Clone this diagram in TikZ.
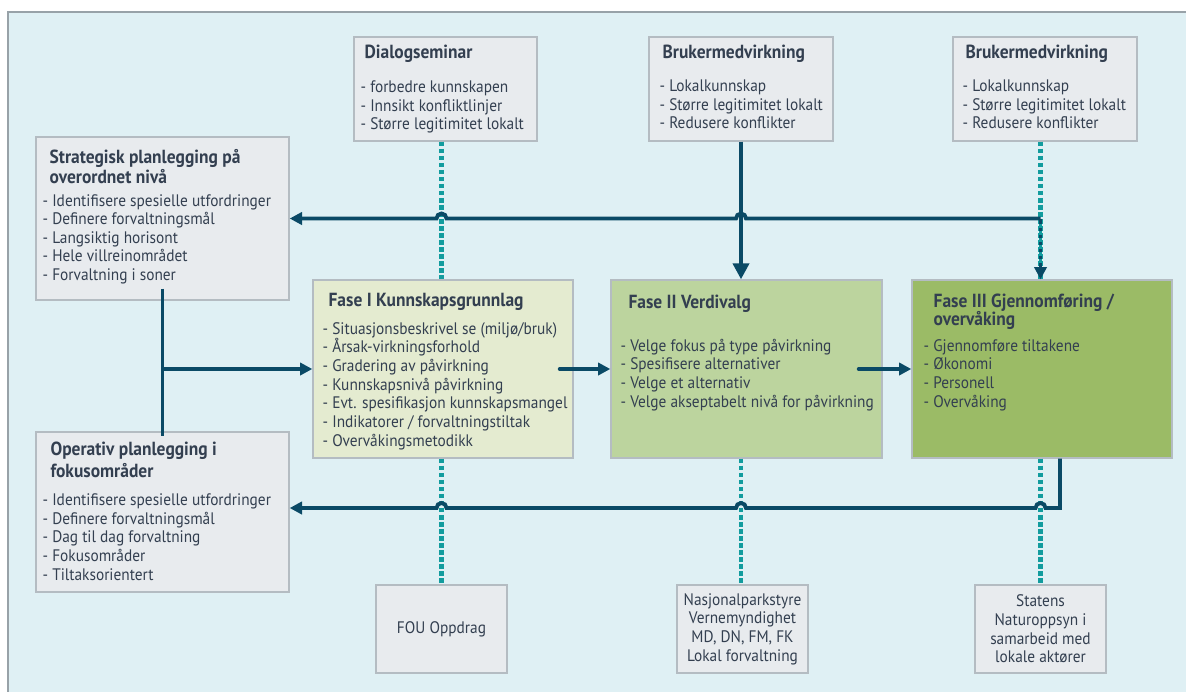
\documentclass[tikz,border=0pt]{standalone}
\usepackage{fontspec}
\setmainfont{PT Sans}[FakeStretch=0.92]
\usepackage{xcolor}
\usetikzlibrary{arrows.meta,positioning,fit,calc}

\definecolor{bgblue}{HTML}{DFF0F4}
\definecolor{framegray}{HTML}{98A2A8}
\definecolor{boxgray}{HTML}{E8EBEE}
\definecolor{boxline}{HTML}{B4BCC2}
\definecolor{faseone}{HTML}{E4EBD0}
\definecolor{fasetwo}{HTML}{BCD49E}
\definecolor{fasethree}{HTML}{9BBB66}
\definecolor{flowblue}{HTML}{0A4A66}
\definecolor{dotteal}{HTML}{129C9E}
\definecolor{txtgray}{HTML}{333F50}

\tikzset{
  greybox/.style={draw=boxline, line width=0.8pt, fill=boxgray, inner sep=0pt},
  fasebox/.style={greybox, fill=#1},
  boxtext/.style={anchor=north west, inner sep=0pt, align=left, text=txtgray,
    font=\fontsize{9.5}{10.6}\selectfont},
  midtext/.style={inner sep=0pt, align=center, text=txtgray,
    font=\fontsize{9.5}{10.6}\selectfont},
  flow/.style={draw=flowblue, line width=2.2pt},
  flowarrow/.style={flow, -{Triangle[length=7pt,width=7pt]}},
  dotline/.style={draw=dotteal, line width=2.8pt, dash pattern=on 2.6pt off 1.4pt},
}
\newcommand{\boxtitle}[1]{{\fontsize{10.8}{11}\selectfont\bfseries #1}}

\begin{document}
\begin{tikzpicture}[x=0.02cm, y=-0.02cm]
\useasboundingbox (0,0) rectangle (1186,691);
\draw[draw=framegray, line width=1.4pt, fill=bgblue] (8,12) rectangle (1200,705);

% top row
\node[greybox, fit={(354,37) (537,141)}] (dialog) {};
\node[boxtext] (dialog-t) at ([shift={(7,8)}]dialog.north west)
  {\hspace*{2.3pt}\boxtitle{Dialogseminar}\\[9pt]
   - forbedre kunnskapen\\
   - Innsikt konfliktlinjer\\
   - Større legitimitet lokalt};
\node[greybox, fit={(649,37) (833,141)}] (bruker1) {};
\node[boxtext] (bruker1-t) at ([shift={(11,8)}]bruker1.north west)
  {\hspace*{1.7pt}\boxtitle{Brukermedvirkning}\\[8.4pt]
   - Lokalkunnskap\\
   - Større legitimitet lokalt\\
   - Redusere konflikter};
\node[greybox, fit={(953,37) (1137,141)}] (bruker2) {};
\node[boxtext] (bruker2-t) at ([shift={(10,8)}]bruker2.north west)
  {\hspace*{1.7pt}\boxtitle{Brukermedvirkning}\\[8.4pt]
   - Lokalkunnskap\\
   - Større legitimitet lokalt\\
   - Redusere konflikter};

% planning boxes
\node[greybox, fit={(36,137) (289,300)}] (strat) {};
\node[boxtext] (strat-t) at ([shift={(7,13)}]strat.north west)
  {\hspace*{4pt}\boxtitle{Strategisk planlegging på}\\[0.7pt]
   \hspace*{4pt}\boxtitle{overordnet nivå}\\[2.2pt]
   - Identifisere spesielle utfordringer\\
   - Definere forvaltningsmål\\
   - Langsiktig horisont\\
   - Hele villreinområdet\\
   - Forvaltning i soner};
\node[greybox, fit={(36,432) (289,592)}] (oper) {};
\node[boxtext] (oper-t) at ([shift={(7,10)}]oper.north west)
  {\hspace*{4.5pt}\boxtitle{Operativ planlegging i}\\[1.9pt]
   \hspace*{4.5pt}\boxtitle{fokusområder}\\[5.6pt]
   - Identifisere spesielle utfordringer\\
   - Definere forvaltningsmål\\
   - Dag til dag forvaltning\\
   - Fokusområder\\
   - Tiltaksorientert};

% phases
\node[fasebox=faseone, fit={(313,280) (573,458)}] (fase1) {};
\node[boxtext] (fase1-t) at ([shift={(10,14)}]fase1.north west)
  {\hspace*{3.4pt}\boxtitle{Fase I Kunnskapsgrunnlag}\\[5pt]
   - Situasjonsbeskrivel se (miljø/bruk)\\
   - Årsak-virkningsforhold\\
   - Gradering av påvirkning\\
   - Kunnskapsnivå påvirkning\\
   - Evt. spesifikasjon kunnskapsmangel\\
   - Indikatorer / forvaltningstiltak\\
   - Overvåkingsmetodikk};
\node[fasebox=fasetwo, fit={(611,280) (882,458)}] (fase2) {};
\node[boxtext] (fase2-t) at ([shift={(10,15)}]fase2.north west)
  {\hspace*{4.5pt}\boxtitle{Fase II Verdivalg}\\[14pt]
   - Velge fokus på type påvirkning\\
   - Spesifisere alternativer\\
   - Velge et alternativ\\
   - Velge akseptabelt nivå for påvirkning};
\node[fasebox=fasethree, fit={(912,280) (1172,458)}] (fase3) {};
\node[boxtext] (fase3-t) at ([shift={(12,14)}]fase3.north west)
  {\hspace*{5.7pt}\boxtitle{Fase III Gjennomføring /}\\
   \hspace*{5.7pt}\boxtitle{overvåking}\\[3.8pt]
   - Gjennomføre tiltakene\\
   - Økonomi\\
   - Personell\\
   - Overvåking};

% bottom row
\node[greybox, fit={(376,585) (507,673)}] (fou) {};
\node[midtext] (fou-t) at (fou) {FOU Oppdrag};
\node[greybox, fit={(677,585) (808,673)}] (nasj) {};
\node[midtext] (nasj-t) at (nasj) {Nasjonalparkstyre\\Vernemyndighet\\MD, DN, FM, FK\\Lokal forvaltning};
\node[greybox, fit={(975,585) (1106,673)}] (statens) {};
\node[midtext] (statens-t) at (statens) {Statens\\Naturoppsyn i\\samarbeid med\\lokale aktører};

% dotted links
\draw[dotline] (fou.north |- dialog.south) -- (fou.north |- fase1.north);
\draw[dotline] (fou.north |- fase1.south) -- (fou.north);
\draw[dotline] (bruker1.south |- fase2.south) -- (bruker1.south |- nasj.north);
\draw[dotline] (statens.north |- bruker2.south) -- (statens.north |- fase3.north);
\draw[dotline] (statens.north |- fase3.south) -- (statens.north);

% upper flow
\coordinate (turn) at (statens.north |- strat.east);
\draw[flow, -{Triangle[length=9pt,width=9pt]}] (bruker1.south) -- (bruker1.south |- fase2.north);
\draw[flowarrow] (turn) -- (turn |- fase3.north);
\draw[dotline, line width=1.2pt] ([yshift=-0.1cm]turn) -- ([yshift=0.3cm]turn |- fase3.north);
\draw[flowarrow] (turn) -- ($(bruker1.south |- strat.east)+(5,0)$)
  arc[start angle=0, end angle=180, radius=0.1cm]
  -- ($(fou.north |- strat.east)+(5,0)$)
  arc[start angle=0, end angle=180, radius=0.1cm]
  -- (strat.east);

% planning to phase I
\draw[flow] ([yshift=0.24cm]strat.south) -- ([yshift=-0.1cm]oper.north);
\draw[flowarrow] (strat.south |- fase1.west) -- (fase1.west);
\draw[flowarrow, line cap=round] ([xshift=-0.28cm]fase1.east) -- (fase2.west);
\draw[flowarrow, line cap=round] ([xshift=-0.48cm]fase2.east) -- (fase3.west);

% lower flow
\coordinate (lowleft) at ([yshift=0.08cm]oper.east);
\draw[flowarrow] ([xshift=0.36cm]fase3.south) |- ($(statens.north |- lowleft)+(5,0)$)
  arc[start angle=0, end angle=180, radius=0.1cm]
  -- ($(bruker1.south |- lowleft)+(5,0)$)
  arc[start angle=0, end angle=180, radius=0.1cm]
  -- ($(fou.north |- lowleft)+(5,0)$)
  arc[start angle=0, end angle=180, radius=0.1cm]
  -- (lowleft);
\end{tikzpicture}
\end{document}
